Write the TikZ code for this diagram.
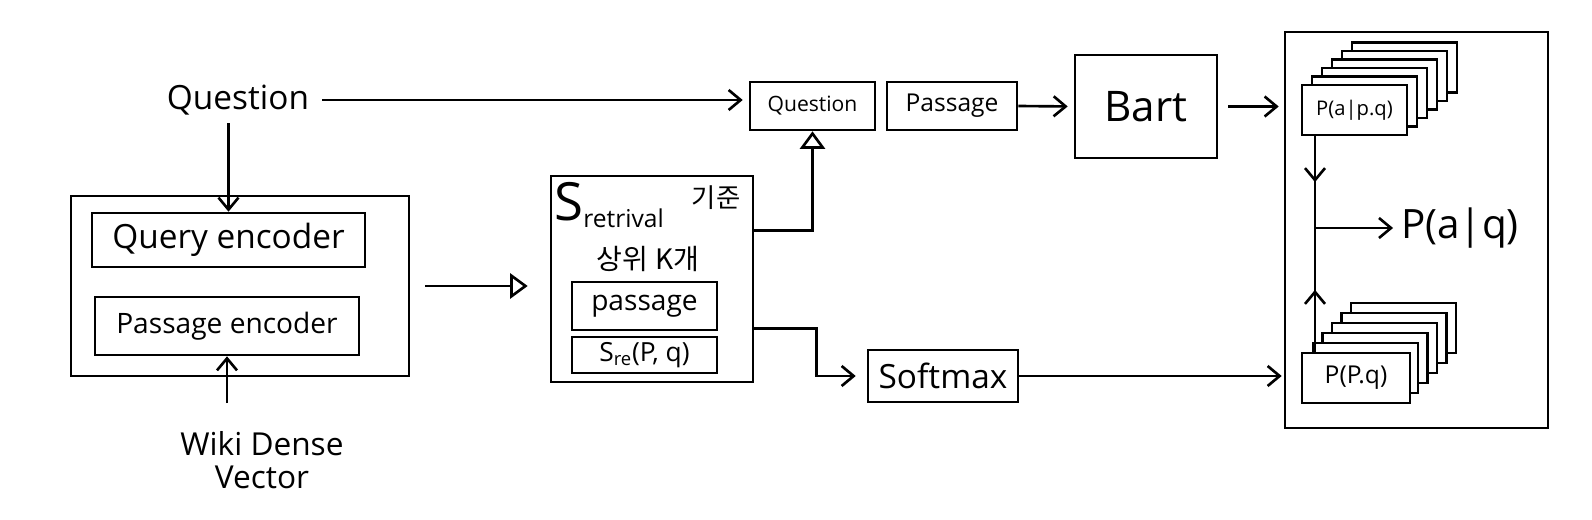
\documentclass[tikz,border=0pt]{standalone}
\usepackage{fontspec}
\setmainfont{Open Sans}
\newfontfamily\cjk{Noto Sans CJK KR}
\usetikzlibrary{arrows.meta, positioning, decorations.markings}

\begin{document}
\begin{tikzpicture}[
    x=0.02cm, y=-0.02cm,
    line width=1.5pt,
    box/.style={draw, rectangle, inner sep=0pt},
    txt/.style={inner sep=1pt, align=center},
    arrow/.style={-{Straight Barb[length=2.4mm, width=4mm]}},
    openarrow/.style={-{Triangle[open, length=3.5mm, width=5mm]}},
    midarrow/.style={postaction={decorate}, decoration={markings,
        mark=at position 0.5 with {\arrow{Straight Barb[length=2.4mm, width=4mm]}}}},
    layer/.style={draw, fill=white, minimum width=2.1cm, minimum height=1cm}
]
\useasboundingbox (0,0) rectangle (1592,520);

% Encoders
\node[txt, font=\fontsize{19}{22}\selectfont] (question) at (238,100) {Question};
\node[box, minimum width=6.76cm, minimum height=3.6cm] (encbox) at (240,286) {};
\node[box, minimum width=5.46cm, minimum height=1.08cm, font=\fontsize{19}{22}\selectfont] (qenc) at (228.5,240) {Query encoder};
\node[box, minimum width=5.28cm, minimum height=1.16cm, font=\fontsize{16}{19}\selectfont] (penc) at (227,326) {Passage encoder};
\node[txt, font=\fontsize{18}{19}\selectfont] (wiki) at (262,460) {Wiki Dense\\Vector};

% Retrieval
\node[box, minimum width=4.04cm, minimum height=4.12cm] (ret) at (652,279) {};
\node[inner sep=0pt, anchor=north west] (sret) at (553,181)
    {\fontsize{30}{30}\selectfont S\raisebox{-4pt}{\fontsize{14}{14}\selectfont retrival}};
\node[txt, font=\cjk\fontsize{15}{15}\selectfont] (kijun) at (716,198) {기준};
\node[txt, font=\cjk\fontsize{16}{16}\selectfont] (rank) at (648,259) {상위 K개};
\node[box, minimum width=2.9cm, minimum height=0.96cm, font=\fontsize{16}{19}\selectfont] (rpass) at (644.5,306) {passage};
\node[box, minimum width=2.9cm, minimum height=0.72cm, font=\fontsize{15}{18}\selectfont] (sre) at (644.5,355) {S\textsubscript{re}(P, q)};

% Reader input
\node[box, minimum width=2.5cm, minimum height=0.96cm, font=\fontsize{12}{14}\selectfont] (qsmall) at (812.5,106) {Question};
\node[box, minimum width=2.6cm, minimum height=0.96cm, font=\fontsize{14}{16}\selectfont] (psmall) at (952,106) {Passage};
\node[box, minimum width=2.84cm, minimum height=2.06cm, font=\fontsize{24}{26}\selectfont] (bart) at (1146,106.5) {Bart};
\node[box, minimum width=3.0cm, minimum height=1.04cm, font=\fontsize{19}{22}\selectfont] (softmax) at (943,376) {Softmax};

% Output
\node[box, minimum width=5.26cm, minimum height=7.92cm] (outer) at (1416.5,230) {};
\foreach \i in {5,4,...,1}
    \node[layer, xshift=\i*0.2cm, yshift=\i*0.17cm] at (1354.5,110) {};
\node[layer, font=\fontsize{11.5}{13}\selectfont] (paq) at (1354.5,110) {P(a|p.q)};
\foreach \i in {5,4,...,1}
    \node[layer, xshift=\i*0.19cm, yshift=\i*0.2cm] at (1356,378) {};
\node[layer, minimum width=2.16cm, font=\fontsize{14}{16}\selectfont] (pp) at (1356,378) {P(P.q)};
\node[txt, font=\fontsize{23}{26}\selectfont] (pq) at (1460,228) {P(a|q)};

% Connections
\draw[arrow, shorten <=0.2cm, shorten >=0.12cm] (question.east) -- (question.east -| qsmall.west);
\draw[arrow, shorten <=0.1cm] (qenc.north |- question.south) -- (qenc.north);
\draw[arrow, shorten <=0.5cm] (penc.south |- wiki.north) -- (penc.south);
\draw[openarrow, shorten <=0.3cm, shorten >=0.44cm] (encbox.east) -- (encbox.east -| ret.west);
\draw[openarrow] ([yshift=0.97cm]ret.east) -| (qsmall.south);
\draw[arrow, shorten >=0.22cm] ([yshift=-0.99cm]ret.east) -- ++(62,0) |- (softmax.west);
\draw[arrow, shorten >=0.12cm] (psmall.east) -- (bart.west);
\draw[arrow, shorten <=0.2cm, shorten >=0.44cm] (bart.east) -- (bart.east -| paq.west);
\draw[arrow, shorten >=0.38cm] (softmax.east) -- (softmax.east -| pp.west);

% Marginalisation
\coordinate (join) at (1315,228);
\draw[midarrow] (paq.south -| join) -- (join);
\draw[midarrow] (pp.north -| join) -- (join);
\draw[arrow, shorten >=0.1cm] (join) -- (pq.west);

\end{tikzpicture}
\end{document}
